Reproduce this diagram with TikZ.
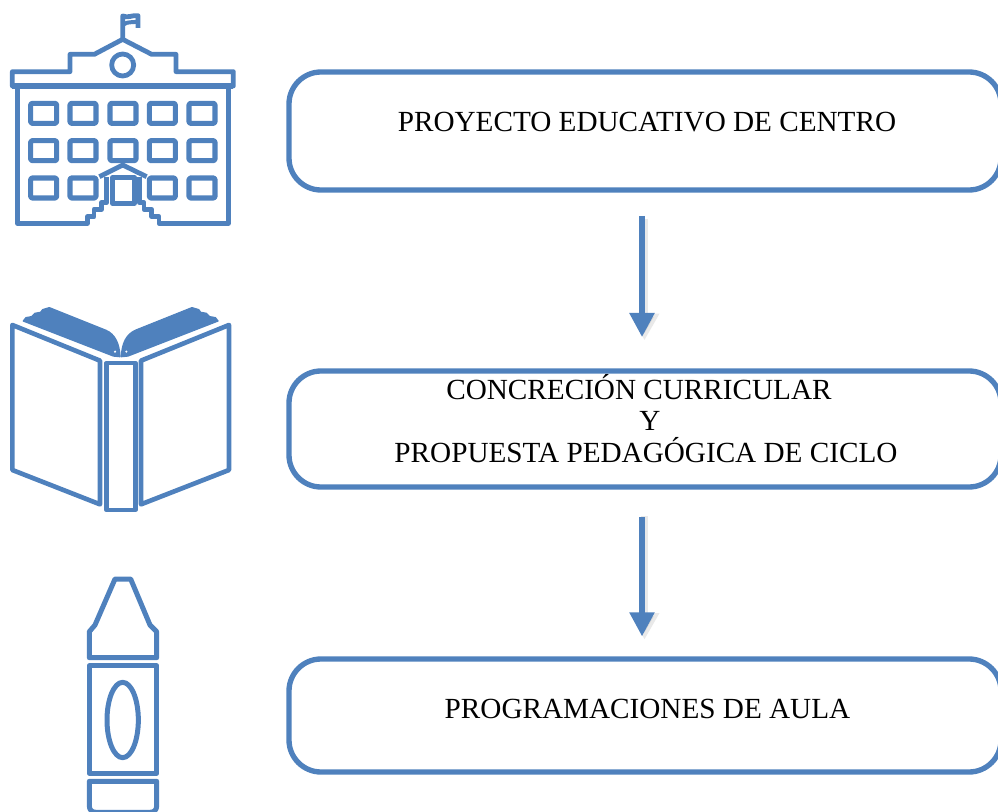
\documentclass[tikz,border=0pt]{standalone}
\usepackage{fontspec}
\setmainfont{Liberation Serif}
\usetikzlibrary{arrows.meta,calc}
\definecolor{bl}{HTML}{4F81BD}
\tikzset{
  stage/.style={draw=bl,line width=4pt,rounded corners=24pt,minimum width=534pt,inner sep=0pt},
  label/.style={font=\fontsize{21.9pt}{23.6pt}\selectfont,text=black,align=center,inner sep=0pt},
  flow/.style={draw=bl,line width=4pt,-{Triangle[length=18pt,width=18pt,fill=bl]}},
  flowshade/.style={draw=black!60,opacity=.14,line width=5pt,-{Triangle[length=20pt,width=21pt]}},
  ico/.style={draw=bl,line join=round,line width=3.6pt},
  small/.style={draw=bl,line join=round,line width=3.8pt,rounded corners=1pt},
}
\begin{document}
\begin{tikzpicture}[x=0.75pt,y=-0.75pt]
\useasboundingbox (0,0) rectangle (998,812);
\clip (0,0) rectangle (998,812);
% boxes
\node[stage,minimum height=88.5pt] (p1) at (645,131) {};
\node[stage,minimum height=87pt] (p2) at (645,429) {};
\node[stage,minimum height=84.75pt] (p3) at (645,715.5) {};
\node[label] (t1) at (647,122) {PROYECTO EDUCATIVO DE CENTRO};
\node[label] (t2) at (646,418.5) {CONCRECIÓN CURRICULAR\hspace*{10.5pt}\\\hspace*{6pt}Y\\PROPUESTA PEDAGÓGICA DE CICLO};
\node[label] (t3) at (647.5,709) {PROGRAMACIONES DE AULA};
% arrows
\coordinate (ax) at (642,0);
\coordinate (bx) at (644.5,0);
\draw[flowshade,shorten <=19.5pt,shorten >=21pt] (p1.south -| bx) -- (p2.north -| bx);
\draw[flowshade,shorten <=20pt,shorten >=12.5pt] (p2.south -| bx) -- (p3.north -| bx);
\draw[flow,shorten <=17.5pt,shorten >=23.5pt] (p1.south -| ax) -- (p2.north -| ax);
\draw[flow,shorten <=20.5pt,shorten >=15pt] (p2.south -| ax) -- (p3.north -| ax);
% school (coordinates in 3x zoom)
\begin{scope}[x=0.25pt,y=-0.25pt]
\draw[ico] (37,215)--(210,215)--(210,163)--(283,163)--(368,118)--(455,163)--(528,163)--(528,215)--(700,215)--(700,258)--(37,258)--cycle;
\fill[bl] (37,250) rectangle (700,268);
\draw[ico] (368,118)--(368,48) .. controls (385,55) and (395,45) .. (414,47) -- (414,84);
\draw[ico,line width=3pt] (368,75) .. controls (385,62) and (395,70) .. (414,64);
\draw[ico] (368,195) circle (33);
\draw[ico] (52,262)--(52,670)--(262,670)--(262,650)--(282,650)--(282,628)--(305,628)--(305,608)--(320,608)--(320,530);
\draw[ico] (418,530)--(418,608)--(432,608)--(432,628)--(455,628)--(455,650)--(477,650)--(477,670)--(685,670)--(685,262);
\foreach \y in {310,422,534}{
 \foreach \x in {92,210,330,448,567}{
  \ifnum\y=534 \ifnum\x=330 \else \draw[small] (\x,\y) rectangle ++(78,60); \fi
  \else \draw[small] (\x,\y) rectangle ++(78,60); \fi
 }}
\draw[ico] (338,532) rectangle (403,610);
\draw[ico] (298,530)--(368,495)--(440,530);
\end{scope}
% book
\begin{scope}[x=0.25pt,y=-0.25pt,yshift=-221.25pt]
\draw[ico,line width=3.5pt] (37,90)--(300,197)--(300,628)--(37,525)--cycle;
\draw[ico,line width=3.5pt] (687,90)--(423,197)--(423,628)--(687,525)--cycle;
\draw[ico,line width=3.3pt] (319,204) rectangle (406,645);
\foreach \m in {0,1}{
 \begin{scope}[shift={(724*\m,0)},xscale={1-2*\m}]
 \fill[bl,draw=bl,line join=round,line width=1pt] (70,78)--(78,68)--(95,65)--(105,55)--(122,52)--(128,44)--(148,38)--(318,106)
   .. controls (345,118) and (358,145) .. (360,185) -- (340,183) -- cycle;
 \fill[white] (345,170) circle (3.5);
 \end{scope}
}
\end{scope}
% crayon
\begin{scope}[x=0.25pt,y=-0.25pt,xshift=52.5pt,yshift=-427.5pt]
\draw[ico,line width=3.75pt] (135,27)--(182,27)--(240,165)--(260,185)--(260,263)--(58,263)--(58,185)--(75,165)--cycle;
\draw[ico,line width=3.75pt] (58,287) rectangle (260,610);
\draw[ico,line width=3.75pt] (158,450) ellipse (47 and 113);
\draw[ico,line width=3.75pt] (58,634)--(260,634)--(260,708) .. controls (260,720) and (252,727) .. (240,727)--(78,727) .. controls (66,727) and (58,720) .. (58,708)--cycle;
\end{scope}
\end{tikzpicture}
\end{document}
